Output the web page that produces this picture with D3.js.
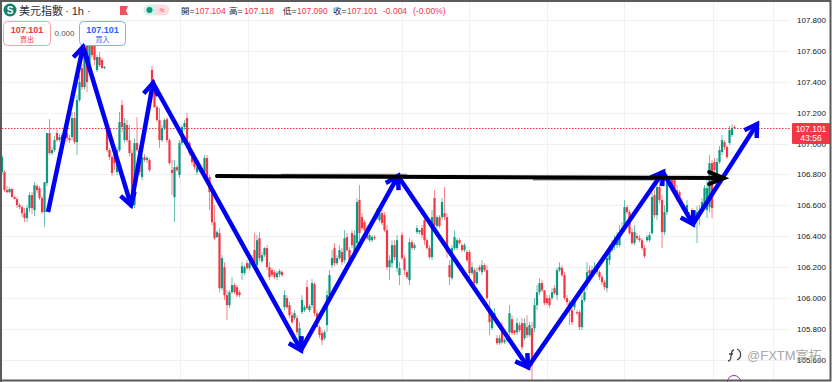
<!DOCTYPE html>
<html lang="zh-Hant">
<head>
<meta charset="UTF-8">
<title>美元指數 1h</title>
<style>
  html, body { margin: 0; padding: 0; background: #fff; }
  svg { display: block; }
  text { font-family: "Liberation Sans", "Noto Sans CJK TC", sans-serif; }
  .cjk { font-family: "Noto Sans CJK TC", sans-serif; }
</style>
<script src="https://d3js.org/d3.v7.min.js"></script>
</head>
<body>
<svg id="chart" width="832" height="382"></svg>
<script>
// hourly candles, one row per ten bars
var opens = [
106.815,106.815,106.698,106.685,106.705,106.653,106.64,106.601,106.588,106.549,
106.517,106.582,106.666,106.569,106.724,106.711,106.647,106.556,106.744,107.068,
106.938,106.958,107.068,107.022,107.055,107.035,107.068,107.035,107.042,107.165,
107.009,107.282,107.489,107.366,107.651,107.463,107.638,107.638,107.476,107.56,
107.541,107.489,107.107,106.958,106.912,106.925,106.815,106.958,107.249,107.022,
107.12,107.022,106.938,106.601,107.003,106.958,106.783,106.912,106.893,106.893,
107.476,107.392,107.236,107.152,107.022,107.1,107.158,107.022,106.828,106.653,
106.847,106.796,107.003,107.107,107.165,107.003,106.938,106.893,106.815,106.847,
106.828,106.815,106.906,106.783,106.685,106.491,106.394,106.42,106.063,106.199,
106.018,105.953,106.037,106.083,106.07,106.037,106.161,106.161,106.225,106.193,
106.225,106.31,106.212,106.387,106.238,106.277,106.323,106.199,106.18,106.167,
106.135,106.154,106.167,105.94,105.999,105.953,105.888,105.869,105.869,105.713,
105.908,105.921,106.07,105.921,105.953,106.09,105.901,105.811,105.772,105.739,
105.824,106.018,106.212,106.323,106.225,106.258,106.297,106.245,106.394,106.31,
106.42,106.29,106.355,106.634,106.523,106.491,106.452,106.374,106.374,106.394,
106.517,106.504,106.549,106.536,106.439,106.199,106.225,106.342,106.193,106.148,
106.407,106.258,106.167,106.115,106.361,106.323,106.426,106.426,106.452,106.504,
106.374,106.323,106.264,106.647,106.465,106.523,106.523,106.549,106.523,106.212,
106.128,106.323,106.323,106.374,106.342,106.31,106.297,106.297,106.161,106.18,
106.096,106.199,106.167,106.212,106.18,105.921,105.804,105.869,105.739,105.707,
105.811,105.713,105.726,105.778,105.862,105.791,105.778,105.824,105.837,105.739,
105.811,105.759,105.804,105.804,105.953,106.037,106.096,106.05,105.999,105.999,
105.999,106.063,106.018,106.18,106.193,106.148,105.999,105.966,105.921,105.94,
105.908,105.908,105.811,105.986,106.083,106.18,106.161,106.18,106.167,106.167,
106.135,106.102,106.063,106.245,106.31,106.342,106.342,106.342,106.426,106.459,
106.588,106.556,106.426,106.355,106.401,106.387,106.374,106.323,106.374,106.374,
106.42,106.666,106.536,106.718,106.634,106.426,106.556,106.744,106.763,106.763,
106.698,106.685,106.621,106.582,106.556,106.536,106.569,106.517,106.517,106.536,
106.569,106.601,106.569,106.588,106.873,106.88,106.763,106.88,106.945,107.009,106.977,107.003,107.055,107.107];

var highs = [
106.925,106.828,106.724,106.718,106.711,106.66,106.653,106.614,106.601,106.582,
106.601,106.685,106.685,106.75,106.737,106.724,106.66,106.601,106.763,107.158,
106.977,107.048,107.087,107.061,107.068,107.087,107.081,107.055,107.204,107.204,
107.314,107.444,107.515,107.619,107.658,107.651,107.651,107.651,107.573,107.592,
107.554,107.502,107.152,106.971,106.925,106.958,106.977,107.204,107.282,107.165,
107.152,107.12,106.958,107.035,107.171,106.971,106.938,106.932,106.919,106.906,
107.502,107.411,107.249,107.23,107.12,107.165,107.171,107.035,106.893,106.893,
106.86,107.022,107.12,107.152,107.197,107.016,106.958,106.912,106.86,106.86,
106.841,106.925,106.925,106.796,106.711,106.601,106.439,106.452,106.277,106.232,
106.05,106.05,106.135,106.096,106.083,106.05,106.232,106.212,106.245,106.258,
106.277,106.42,106.407,106.426,106.297,106.329,106.342,106.232,106.193,106.18,
106.174,106.187,106.18,106.05,106.018,105.973,105.908,105.921,105.888,105.843,
106.018,105.953,106.115,105.96,106.122,106.102,105.921,105.824,105.791,105.791,
106.05,106.18,106.31,106.355,106.277,106.342,106.323,106.439,106.42,106.329,
106.439,106.439,106.647,106.731,106.549,106.504,106.472,106.42,106.407,106.407,
106.582,106.569,106.569,106.556,106.472,106.277,106.374,106.374,106.407,106.232,
106.426,106.277,106.18,106.387,106.374,106.355,106.472,106.439,106.472,106.536,
106.387,106.342,106.569,106.698,106.536,106.536,106.647,106.718,106.549,106.245,
106.342,106.439,106.387,106.387,106.355,106.355,106.31,106.31,106.232,106.193,
106.193,106.212,106.245,106.225,106.212,105.986,105.921,105.934,105.759,105.759,
105.843,105.739,105.778,105.953,105.888,105.791,105.869,105.843,105.869,105.869,
105.888,105.843,105.843,105.999,106.083,106.128,106.115,106.05,106.018,106.018,
106.063,106.083,106.193,106.232,106.212,106.167,106.018,105.986,105.934,105.999,
105.921,105.921,106.018,106.083,106.232,106.212,106.206,106.232,106.219,106.18,
106.148,106.115,106.277,106.342,106.374,106.407,106.426,106.472,106.491,106.634,
106.601,106.569,106.452,106.472,106.42,106.407,106.387,106.342,106.407,106.426,
106.685,106.698,106.75,106.763,106.666,106.601,106.776,106.789,106.789,106.789,
106.731,106.698,106.647,106.608,106.634,106.556,106.582,106.569,106.595,106.601,
106.647,106.731,106.763,106.925,106.893,106.906,106.906,106.984,107.055,107.022,106.99,107.113,107.126,107.12];

var lows = [
106.796,106.685,106.679,106.679,106.653,106.64,106.582,106.575,106.523,106.491,
106.491,106.556,106.543,106.53,106.679,106.634,106.543,106.459,106.724,106.925,
106.925,106.945,107.009,107.009,107.003,107.022,107.009,107.003,107.022,106.996,
106.925,107.269,107.347,107.347,107.333,107.45,107.554,107.508,107.463,107.495,
107.482,107.482,106.945,106.893,106.789,106.828,106.796,106.945,107.074,107.003,
107.009,106.919,106.582,106.582,106.945,106.796,106.763,106.88,106.873,106.815,
107.379,107.23,107.139,106.971,107.009,107.087,107.003,106.86,106.666,106.491,
106.815,106.776,106.99,107.087,106.984,106.919,106.86,106.828,106.796,106.815,
106.796,106.796,106.77,106.569,106.472,106.374,106.387,106.037,106.05,105.986,
105.857,105.934,106.024,106.024,106.005,106.005,106.115,106.148,106.18,106.18,
106.212,106.206,106.193,106.238,106.225,106.264,106.18,106.115,106.135,106.122,
106.115,106.135,106.135,105.921,105.927,105.869,105.83,105.856,105.759,105.687,
105.895,105.908,105.921,105.908,105.934,105.882,105.817,105.739,105.694,105.726,
105.778,105.999,106.193,106.206,106.212,106.245,106.212,106.225,106.297,106.225,
106.323,106.271,106.335,106.374,106.439,106.426,106.374,106.361,106.361,106.374,
106.504,106.491,106.472,106.426,106.18,106.115,106.193,106.245,106.167,106.083,
106.245,106.148,106.122,106.083,106.31,106.31,106.413,106.413,106.387,106.342,
106.31,106.251,106.245,106.452,106.452,106.452,106.504,106.504,106.258,106.083,
106.115,106.31,106.31,106.342,106.297,106.297,106.232,106.128,106.148,106.083,
106.083,106.167,106.148,106.167,105.986,105.759,105.791,105.856,105.694,105.694,
105.701,105.701,105.713,105.759,105.759,105.759,105.759,105.778,105.662,105.726,
105.739,105.746,105.467,105.778,105.921,106.018,106.037,105.953,105.953,105.934,
105.986,106.018,105.986,106.167,106.135,105.986,105.953,105.824,105.824,105.921,
105.888,105.791,105.791,105.973,106.05,106.148,106.148,106.167,106.148,106.115,
106.083,106.05,106.037,106.212,106.297,106.31,106.323,106.329,106.407,106.426,
106.543,106.407,106.342,106.342,106.374,106.361,106.31,106.258,106.361,106.361,
106.407,106.517,106.504,106.614,106.323,106.407,106.536,106.724,106.711,106.685,
106.621,106.601,106.569,106.543,106.536,106.504,106.491,106.504,106.355,106.472,
106.556,106.582,106.517,106.556,106.517,106.815,106.744,106.867,106.925,106.958,106.899,106.99,107.042,107.094];

var closes = [
106.912,106.698,106.685,106.705,106.653,106.64,106.601,106.588,106.549,106.517,
106.582,106.666,106.582,106.731,106.698,106.647,106.556,106.75,107.068,106.938,
106.958,107.022,107.022,107.042,107.022,107.068,107.035,107.022,107.165,107.009,
107.282,107.398,107.366,107.586,107.398,107.638,107.573,107.541,107.56,107.508,
107.489,107.495,106.958,106.912,106.809,106.873,106.958,107.139,107.107,107.133,
107.022,106.938,106.601,107.003,106.958,106.815,106.912,106.893,106.906,106.828,
107.392,107.236,107.152,107.022,107.1,107.152,107.022,106.873,106.809,106.847,
106.828,107.003,107.107,107.133,107.003,106.938,106.88,106.847,106.847,106.828,
106.815,106.906,106.783,106.685,106.491,106.387,106.426,106.063,106.258,106.018,
105.953,106.037,106.083,106.037,106.018,106.018,106.206,106.199,106.193,106.225,
106.258,106.225,106.374,106.258,106.277,106.323,106.199,106.135,106.148,106.135,
106.161,106.174,106.148,106.018,105.94,105.888,105.843,105.901,105.778,105.804,
105.986,105.94,105.934,105.947,106.096,105.901,105.811,105.759,105.726,105.778,
106.018,106.148,106.258,106.225,106.258,106.31,106.232,106.387,106.31,106.245,
106.342,106.407,106.621,106.42,106.452,106.439,106.387,106.407,106.394,106.387,
106.556,106.549,106.485,106.439,106.199,106.245,106.342,106.264,106.374,106.193,
106.258,106.18,106.135,106.361,106.323,106.342,106.452,106.439,106.407,106.374,
106.323,106.264,106.523,106.472,106.523,106.465,106.621,106.523,106.297,106.135,
106.323,106.394,106.374,106.355,106.31,106.342,106.245,106.161,106.199,106.096,
106.167,106.18,106.212,106.18,105.999,105.843,105.901,105.901,105.707,105.739,
105.713,105.726,105.759,105.901,105.772,105.772,105.837,105.791,105.681,105.837,
105.759,105.824,105.564,105.953,106.037,106.096,106.05,105.966,105.966,105.953,
106.037,106.031,106.18,106.199,106.148,105.999,105.973,105.921,105.843,105.973,
105.901,105.811,105.986,106.037,106.167,106.161,106.18,106.193,106.193,106.135,
106.102,106.07,106.258,106.31,106.342,106.374,106.387,106.426,106.452,106.588,
106.556,106.42,106.355,106.426,106.387,106.374,106.323,106.271,106.394,106.407,
106.653,106.536,106.718,106.634,106.426,106.556,106.744,106.763,106.731,106.698,
106.634,106.621,106.582,106.556,106.601,106.517,106.517,106.543,106.556,106.569,
106.621,106.711,106.711,106.873,106.582,106.828,106.88,106.958,107.022,106.977,106.912,107.087,107.1,107.1];

var priceTicks = [105.6, 105.8, 106.0, 106.2, 106.4, 106.6, 106.8, 107.0, 107.2, 107.4, 107.6, 107.8];
var gridBars = [71.2, 98.4, 160, 186.8, 218, 248.8, 284.4, 308.4];
var lastPrice = 107.101;

// hand drawn zigzag and neckline, in bar number and price
var zigzagBars = [18.4, 32.4, 51.6, 60.4, 119.6, 158.4, 210.4, 264.4, 276.4, 302];
var zigzagPrices = [106.556, 107.625, 106.601, 107.392, 105.662, 106.789, 105.552, 106.815, 106.478, 107.126];
var necklineBars = [86, 288.8];
var necklinePrices = [106.789, 106.776];
// grey edges left on the neckline by the screenshot
var smudgeBars = [[111.6, 162], [212.4, 261]];
var smudgePrices = [106.799, 106.765];

var upColor = "#089981", downColor = "#f23645";

var svg = d3.select("#chart");
var plotRight = 790;

var x = d3.scaleLinear().domain([0, opens.length - 1]).range([2, 734.5]);
var y = d3.scaleLinear().domain([105.6, 107.8]).range([359.7, 20]);

// grid
svg.append("g").selectAll("line").data(priceTicks).enter().append("line")
    .attr("x1", 2).attr("x2", plotRight)
    .attr("y1", function(d) { return Math.round(y(d)) + .5; })
    .attr("y2", function(d) { return Math.round(y(d)) + .5; })
    .attr("stroke", "#f0f1f4");
svg.append("g").selectAll("line").data(gridBars).enter().append("line")
    .attr("x1", function(d) { return Math.round(x(d)) + .5; })
    .attr("x2", function(d) { return Math.round(x(d)) + .5; })
    .attr("y1", 2).attr("y2", 380)
    .attr("stroke", "#f0f1f4");

// last price line
svg.append("line")
    .attr("x1", 2).attr("x2", plotRight)
    .attr("y1", Math.round(y(lastPrice)) + .5).attr("y2", Math.round(y(lastPrice)) + .5)
    .attr("stroke", downColor).attr("stroke-dasharray", "1.5 1.5");

// candles
function barColor(i) { return closes[i] >= opens[i] ? upColor : downColor; }

var candles = svg.append("g").selectAll("g").data(d3.range(opens.length)).enter().append("g");
candles.append("line")
    .attr("x1", function(i) { return x(i); })
    .attr("x2", function(i) { return x(i); })
    .attr("y1", function(i) { return y(highs[i]); })
    .attr("y2", function(i) { return y(lows[i]); })
    .attr("stroke", barColor)
    .attr("stroke-opacity", .6)
    .attr("stroke-width", 1);
candles.append("rect")
    .attr("x", function(i) { return x(i) - 1.1; })
    .attr("width", 2.2)
    .attr("y", function(i) { return y(Math.max(opens[i], closes[i])); })
    .attr("height", function(i) { return Math.max(1, Math.abs(y(opens[i]) - y(closes[i]))); })
    .attr("fill", barColor);

// price axis
var priceAxis = d3.axisRight(y).tickValues(priceTicks).tickSize(0).tickPadding(0).tickFormat(d3.format(".3f"));
var axisG = svg.append("g").attr("transform", "translate(797,0)").call(priceAxis);
axisG.select(".domain").remove();
axisG.selectAll("text")
    .style("font-family", '"Liberation Sans", sans-serif')
    .style("font-size", "8px")
    .attr("fill", "#131722");

// last price tag
svg.append("rect").attr("x", 792).attr("y", 123).attr("width", 38).attr("height", 21).attr("rx", 1).attr("fill", downColor);
svg.append("text").attr("x", 811).attr("y", 131.5).attr("text-anchor", "middle")
    .attr("font-size", 8.5).attr("fill", "#fff").text(d3.format(".3f")(lastPrice));
svg.append("text").attr("x", 811).attr("y", 141).attr("text-anchor", "middle")
    .attr("font-size", 8.5).attr("fill", "#fff").text("43:56");

// header
svg.append("circle").attr("cx", 10).attr("cy", 10).attr("r", 6.5).attr("fill", "#14806f");
svg.append("text").attr("x", 10).attr("y", 13.5).attr("text-anchor", "middle")
    .attr("font-size", 10).attr("font-weight", "bold").attr("fill", "#fff").text("S");
svg.append("text").attr("class", "cjk").attr("x", 19).attr("y", 15)
    .attr("font-size", 11).attr("fill", "#2a2e39").text("美元指數");
svg.append("text").attr("x", 65).attr("y", 15)
    .attr("font-size", 11).attr("fill", "#2a2e39").text("· 1h ·");
svg.append("path").attr("d", "M120 6H128L126 10.5L128 15H120Z").attr("fill", "#f4515d");

svg.append("path").attr("d", "M149 4.5H156V15.5H149A5.5 5.5 0 0 1 149 4.5Z").attr("fill", "#d6f0ea");
svg.append("path").attr("d", "M156 4.5H164A5.5 5.5 0 0 1 164 15.5H156Z").attr("fill", "#fbdde1");
svg.append("circle").attr("cx", 149.5).attr("cy", 10).attr("r", 3).attr("fill", upColor);
svg.append("text").attr("x", 162).attr("y", 13).attr("text-anchor", "middle")
    .attr("font-size", 9).attr("fill", downColor).text("≈");

var ohlcLabels = [["開=", 181, "#131722"], ["107.104", 195, downColor], ["高=", 229, "#131722"], ["107.118", 244, downColor],
    ["低=", 283, "#131722"], ["107.090", 297, downColor], ["收=", 333, "#131722"], ["107.101", 347, downColor],
    ["-0.004", 383, downColor], ["(-0.00%)", 413, downColor]];
svg.append("g").selectAll("text").data(ohlcLabels).enter().append("text")
    .attr("x", function(d) { return d[1]; })
    .attr("y", 14)
    .attr("font-size", 8.5)
    .attr("fill", function(d) { return d[2]; })
    .text(function(d) { return d[0]; });

// buy and sell boxes
svg.append("rect").attr("x", 3.5).attr("y", 21.5).attr("width", 47).attr("height", 24).attr("rx", 4)
    .attr("fill", "#fff").attr("stroke", "#f7a1aa");
svg.append("text").attr("x", 27).attr("y", 32.5).attr("text-anchor", "middle")
    .attr("font-size", 9).attr("font-weight", "bold").attr("fill", downColor).text("107.101");
svg.append("text").attr("class", "cjk").attr("x", 27).attr("y", 42).attr("text-anchor", "middle")
    .attr("font-size", 7).attr("fill", downColor).text("賣出");
svg.append("text").attr("x", 64.5).attr("y", 36).attr("text-anchor", "middle")
    .attr("font-size", 8).attr("fill", "#555").text("0.000");
svg.append("rect").attr("x", 79.5).attr("y", 21.5).attr("width", 46).attr("height", 24).attr("rx", 4)
    .attr("fill", "#fff").attr("stroke", "#8ea8fb");
svg.append("text").attr("x", 102.5).attr("y", 32.5).attr("text-anchor", "middle")
    .attr("font-size", 9).attr("font-weight", "bold").attr("fill", "#2962ff").text("107.101");
svg.append("text").attr("class", "cjk").attr("x", 102.5).attr("y", 42).attr("text-anchor", "middle")
    .attr("font-size", 7).attr("fill", "#2962ff").text("買入");

// arrows
function arrowHead(x0, y0, x1, y1, len, spread) {
    var a = Math.atan2(y1 - y0, x1 - x0);
    var p = function(s) { return [x1 - len * Math.cos(a + s), y1 - len * Math.sin(a + s)]; };
    return d3.line()([p(spread), [x1, y1], p(-spread)]);
}

var smudge = svg.append("g").attr("stroke", "#8a8a8a").attr("stroke-width", 1.5);
smudgeBars.forEach(function(b, i) {
    smudge.append("line")
        .attr("x1", x(b[0])).attr("x2", x(b[1]))
        .attr("y1", y(smudgePrices[i])).attr("y2", y(smudgePrices[i]));
});

var blue = svg.append("g").attr("fill", "none").attr("stroke", "#0000f5").attr("stroke-width", 4.5);
blue.append("path")
    .attr("stroke-linejoin", "round")
    .attr("d", d3.line().x(function(d, i) { return x(zigzagBars[i]); }).y(function(d) { return y(d); })(zigzagPrices));
zigzagPrices.slice(1).forEach(function(p, i) {
    blue.append("path").attr("d", arrowHead(x(zigzagBars[i]), y(zigzagPrices[i]), x(zigzagBars[i + 1]), y(p), 14, .55));
});

var black = svg.append("g").attr("fill", "none").attr("stroke", "#000").attr("stroke-width", 4).attr("stroke-linecap", "round");
black.append("path")
    .attr("d", d3.line().x(function(d, i) { return x(necklineBars[i]); }).y(function(d) { return y(d); })(necklinePrices));
black.append("path")
    .attr("d", arrowHead(x(necklineBars[0]), y(necklinePrices[0]), x(necklineBars[1]), y(necklinePrices[1]), 16, .38));

// watermark
var mark = svg.append("g").attr("fill", "none").attr("stroke", "#444").attr("stroke-width", 1.3);
mark.append("path").attr("d", "M737 349A6 6 0 0 1 737 360");
mark.append("path").attr("d", "M734 350C731 350 732 353 731 356C731 359 730 361 728 361M729 354H733");
svg.append("text").attr("x", 747).attr("y", 360).attr("font-size", 13).attr("fill", "#a8a8a8").text("@FXTM富拓");

// marker cut by the bottom edge
svg.append("circle").attr("cx", 734).attr("cy", 382).attr("r", 6.5).attr("fill", "none").attr("stroke", "#9c27b0");

// outer frame
svg.append("path").attr("d", "M1 382V1H830.5V380.5H1").attr("fill", "none").attr("stroke", "#5a5a5a").attr("stroke-width", 2);
</script>
</body>
</html>
